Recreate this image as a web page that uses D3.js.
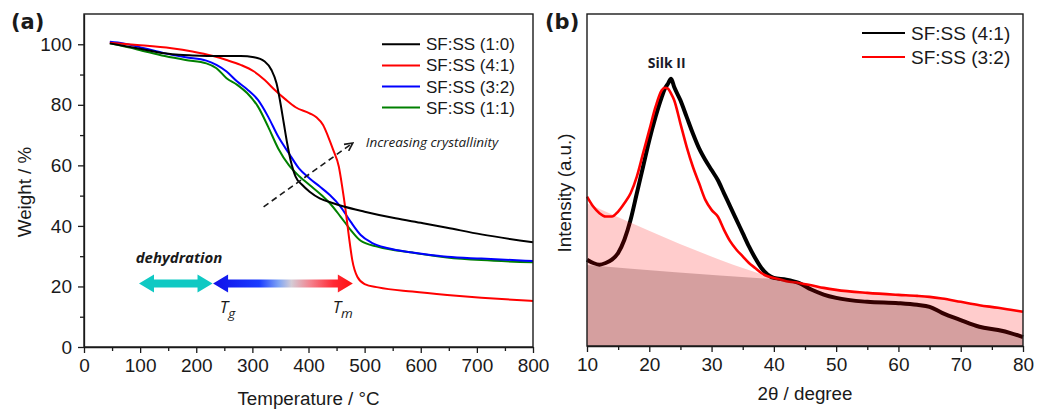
<!doctype html>
<html lang="en">
<head>
<meta charset="UTF-8">
<title>TGA and XRD of SF:SS films</title>
<script src="https://cdn.jsdelivr.net/npm/d3@7"></script>
<style>
  body { margin: 0; background: #fff; }
  svg { display: block; font-family: 'Liberation Sans', Arial, sans-serif; }
  .frame { fill: none; stroke: #1a1a1a; stroke-width: 1.4px; }
  .axis path, .axis line { stroke: #1a1a1a; stroke-width: 1.3px; }
  .axis text { fill: #1a1a1a; }
</style>
</head>
<body>
<div id="chart-area"></div>
<script>

// ---- panel (a): TGA, [temperature °C, weight %] ----
const tgaNames  = ['SF:SS (1:0)', 'SF:SS (4:1)', 'SF:SS (3:2)', 'SF:SS (1:1)'];
const tgaColors = ['#000000', '#ff0000', '#0000ff', '#008000'];

const tga10 = [[46,100.3],[95,98.7],[144,97],[169,96.5],[193,96.3],[242,96.1],[279,96.1],[303,95.7],
  [322,94.3],[334,91.5],[343,87.1],[349,81.6],[356,73.9],[362,67.3],[368,61.8],[377,56.3],[389,53.5],
  [402,51.3],[420,49.1],[444,47.5],[463,46.4],[500,44.7],[555,42.5],[604,40.9],[647,39.4],[708,37.2],[800,34.6]];
const tga41 = [[46,100.5],[95,99.8],[156,98.7],[193,97.6],[230,96.1],[254,94.8],[279,93.2],[303,91],
  [322,88.2],[340,84.9],[359,81.8],[377,79.2],[402,77.2],[414,75.9],[426,73.3],[435,69.5],[444,65.1],
  [454,59.6],[460,53],[466,45.3],[472,36.5],[478,28.7],[487,23.2],[500,20.8],[524,19.7],[585,18.3],
  [647,17.2],[708,16.3],[800,15.2]];
const tga32 = [[46,100.8],[70,100.3],[107,98.7],[144,97],[181,95.7],[218,94.6],[236,93.2],[254,91],
  [273,87.7],[291,85.1],[310,81.6],[328,76.1],[346,69.5],[365,64],[383,59],[402,55.7],[420,53],
  [438,50.2],[457,46.4],[475,41.4],[493,37],[512,34.5],[542,32.6],[585,31.2],[647,29.8],[708,29.2],[800,28.4]];
const tga11 = [[46,100.3],[95,98.3],[144,96.1],[181,94.8],[218,93.7],[236,92.1],[254,88.8],[273,86.6],
  [291,83.8],[310,79.4],[328,72.8],[346,65.6],[365,60.1],[383,56.5],[402,53.5],[426,49.7],[438,47.5],
  [457,43.1],[475,38.7],[493,35.1],[524,33.1],[585,31.2],[647,29.6],[708,28.7],[800,28]];
const tgaSeries = [tga10, tga41, tga32, tga11];

const tempTicks   = [0, 100, 200, 300, 400, 500, 600, 700, 800];
const weightTicks = [0, 20, 40, 60, 80, 100];

// ---- panel (b): XRD ----
const xrdNames  = ['SF:SS (4:1)', 'SF:SS (3:2)'];
const xrdColors = ['#000000', '#ff0000'];
const twoTheta = [10,11,12,13,14,15,16,17,18,19,20,21,22,22.5,23,23.5,24,25,26,27,28,29,30,31,32,33,34,35,
  36,37,38,39,40,42,44,46,48,50,55,60,63,65,67,70,73,76,78,80];
const xrd41 = [26,25,24.5,25,26,28,32,38,46,54,62,69,75,77.5,79,80.5,78,74,69,64,59.5,56,53,50,46,42,38,34,
  30,26.5,23.5,21.5,20.5,20,19,17,15.5,14.5,13.3,12.9,12.4,11.8,10,7.8,5.8,4.8,3.9,2.7];
const xrd32 = [45,42,40,39,39,40.5,43,46,51,58,65,72,77,77.8,77.5,76,74,67,60,54,49,44,41,39,35,31.5,29,27,
  25,23.5,22,21,20.5,19.5,19,18.3,17.5,16.9,16,15.4,15.1,14.8,14.3,13.3,12.3,11.5,10.9,10.3];
// straight background lines under each pattern, [2θ, intensity]
const base32 = [[10, 43], [38, 21.6]];
const base41 = [[10, 24.4], [40, 20.2]];
const thetaTicks = [10, 20, 30, 40, 50, 60, 70, 80];

const W = 1045, H = 412;
const svg = d3.select('#chart-area').append('svg')
    .attr('width', W)
    .attr('height', H);
svg.append('rect').attr('width', W).attr('height', H).attr('fill', '#fff');

const defs = svg.append('defs');

function drawAxes(g, x, y, box, xTicks, xMinor, yTicks, yMinor) {
    g.append('g').attr('class', 'axis')
        .attr('transform', `translate(0,${box.bottom})`)
        .call(d3.axisBottom(x).tickValues(xMinor).tickFormat('').tickSize(4).tickSizeOuter(0))
        .call(s => s.select('.domain').remove());
    g.append('g').attr('class', 'axis')
        .attr('transform', `translate(0,${box.bottom})`)
        .call(d3.axisBottom(x).tickValues(xTicks).tickSize(6).tickPadding(6).tickSizeOuter(0))
        .attr('font-family', null).attr('font-size', 19);
    if (yTicks) {
        g.append('g').attr('class', 'axis')
            .attr('transform', `translate(${box.left},0)`)
            .call(d3.axisLeft(y).tickValues(yMinor).tickFormat('').tickSize(4).tickSizeOuter(0))
            .call(s => s.select('.domain').remove());
        g.append('g').attr('class', 'axis')
            .attr('transform', `translate(${box.left},0)`)
            .call(d3.axisLeft(y).tickValues(yTicks).tickSize(6).tickPadding(6).tickSizeOuter(0))
            .attr('font-family', null).attr('font-size', 19);
    }
    g.append('rect').attr('class', 'frame')
        .attr('x', box.left).attr('y', box.top)
        .attr('width', box.right - box.left).attr('height', box.bottom - box.top);
}

// ===================== panel (a) =====================
const boxA = { left: 84, right: 533, top: 14, bottom: 347 };
const xA = d3.scaleLinear().domain([0, 800]).range([boxA.left, boxA.right]);
const yA = d3.scaleLinear().domain([0, 110]).range([boxA.bottom, boxA.top]);
const gA = svg.append('g');

const lineA = d3.line().x(d => xA(d[0])).y(d => yA(d[1])).curve(d3.curveMonotoneX);
// draw in reverse so black sits on top
[3, 2, 1, 0].forEach(i => {
    gA.append('path')
        .attr('d', lineA(tgaSeries[i]))
        .attr('fill', 'none')
        .attr('stroke', tgaColors[i])
        .attr('stroke-width', 2);
});

drawAxes(gA, xA, yA, boxA, tempTicks, d3.range(50, 800, 100), weightTicks, d3.range(10, 110, 20));

// legend (a)
tgaNames.forEach((name, i) => {
    const ly = 44.3 + i * 21.1;
    gA.append('line').attr('x1', 382).attr('x2', 420).attr('y1', ly).attr('y2', ly)
        .attr('stroke', tgaColors[i]).attr('stroke-width', 2);
    gA.append('text').attr('x', 426).attr('y', ly + 6)
        .attr('font-size', 17).attr('fill', '#1a1a1a').text(name);
});

// increasing crystallinity arrow
defs.append('marker')
    .attr('id', 'chev')
    .attr('viewBox', '0 0 10 10')
    .attr('refX', 9).attr('refY', 5)
    .attr('markerWidth', 10).attr('markerHeight', 10)
    .attr('markerUnits', 'userSpaceOnUse')
    .attr('orient', 'auto')
    .append('path')
    .attr('d', 'M1,1 L9,5 L1,9')
    .attr('fill', 'none').attr('stroke', '#1a1a1a').attr('stroke-width', 1.6);

gA.append('line')
    .attr('x1', xA(320)).attr('y1', yA(46.3))
    .attr('x2', xA(479)).attr('y2', yA(67.4))
    .attr('stroke', '#1a1a1a').attr('stroke-width', 1.6)
    .attr('stroke-dasharray', '6,4')
    .attr('marker-end', 'url(#chev)');

gA.append('text')
    .attr('x', xA(502)).attr('y', yA(66))
    .attr('font-family', 'Open Sans').attr('font-style', 'italic')
    .attr('font-size', 13.5).attr('fill', '#1a1a1a')
    .text('Increasing crystallinity');

// dehydration / Tg-Tm arrows
function doubleArrow(x1, x2, y) {
    const hl = 15, hh = 9, sh = 4;
    return `M${x1},${y} L${x1 + hl},${y - hh} L${x1 + hl},${y - sh} L${x2 - hl},${y - sh} ` +
        `L${x2 - hl},${y - hh} L${x2},${y} L${x2 - hl},${y + hh} L${x2 - hl},${y + sh} ` +
        `L${x1 + hl},${y + sh} L${x1 + hl},${y + hh} Z`;
}

const arrowY = yA(21);
gA.append('path')
    .attr('d', doubleArrow(xA(98), xA(229), arrowY))
    .attr('fill', '#0fc9c3');

const grad = defs.append('linearGradient')
    .attr('id', 'tgtm')
    .attr('gradientUnits', 'userSpaceOnUse')
    .attr('x1', xA(230)).attr('x2', xA(479)).attr('y1', 0).attr('y2', 0);
[[0, '#1010e8'], [0.33, '#1a3cff'], [0.47, '#7fa4f4'], [0.56, '#d4ccd6'], [0.7, '#f4808c'], [0.86, '#ff2a36'], [1, '#ff1010']]
    .forEach(s => grad.append('stop').attr('offset', s[0]).attr('stop-color', s[1]));

gA.append('path')
    .attr('d', doubleArrow(xA(230), xA(479), arrowY))
    .attr('fill', 'url(#tgtm)');

gA.append('text')
    .attr('x', xA(92)).attr('y', yA(27.7))
    .attr('font-family', 'Open Sans').attr('font-style', 'italic').attr('font-weight', 'bold')
    .attr('font-size', 15).attr('fill', '#1a1a1a')
    .text('dehydration');

[['g', 242], ['m', 443]].forEach(([sub, t]) => {
    const tx = gA.append('text')
        .attr('x', xA(t)).attr('y', yA(11.2))
        .attr('font-family', 'Open Sans').attr('font-style', 'italic')
        .attr('font-size', 17).attr('fill', '#1a1a1a');
    tx.append('tspan').text('T');
    tx.append('tspan').attr('dy', 5).attr('font-size', 13.5).text(sub);
});

gA.append('text')
    .attr('transform', `translate(31,192) rotate(-90)`)
    .attr('text-anchor', 'middle')
    .attr('font-size', 18.8).attr('fill', '#1a1a1a')
    .text('Weight / %');

gA.append('text')
    .attr('x', (boxA.left + boxA.right) / 2).attr('y', 405)
    .attr('text-anchor', 'middle')
    .attr('font-size', 18.8).attr('fill', '#1a1a1a')
    .text('Temperature / °C');

gA.append('text')
    .attr('x', 11).attr('y', 29)
    .attr('font-family', 'DejaVu Sans').attr('font-weight', 'bold')
    .attr('font-size', 21).attr('fill', '#1a1a1a')
    .text('(a)');

// ===================== panel (b) =====================
const boxB = { left: 587, right: 1023, top: 14, bottom: 346 };
const xB = d3.scaleLinear().domain([10, 80]).range([boxB.left, boxB.right]);
const yB = d3.scaleLinear().domain([0, 100]).range([boxB.bottom, boxB.top]);
const gB = svg.append('g');

const xrdSeries = [xrd41, xrd32].map(vals => twoTheta.map((t, i) => [t, vals[i]]));
const lineB = d3.line().x(d => xB(d[0])).y(d => yB(d[1])).curve(d3.curveMonotoneX);

gB.append('path').attr('d', lineB(xrdSeries[0]))
    .attr('fill', 'none').attr('stroke', xrdColors[0]).attr('stroke-width', 4)
    .attr('stroke-linejoin', 'round');
gB.append('path').attr('d', lineB(xrdSeries[1]))
    .attr('fill', 'none').attr('stroke', xrdColors[1]).attr('stroke-width', 2.6)
    .attr('stroke-linejoin', 'round');

// background areas: straight base line, then following the pattern
function baseArea(base, series) {
    const [p0, p1] = base;
    return [p0, p1].concat(series.filter(d => d[0] > p1[0]));
}
const areaB = d3.area().x(d => xB(d[0])).y0(yB(0)).y1(d => yB(d[1])).curve(d3.curveMonotoneX);

gB.append('path').attr('d', areaB(baseArea(base32, xrdSeries[1])))
    .attr('fill', 'rgba(255,0,0,0.2)');
gB.append('path').attr('d', areaB(baseArea(base41, xrdSeries[0])))
    .attr('fill', 'rgba(64,0,0,0.22)');

drawAxes(gB, xB, yB, boxB, thetaTicks, d3.range(15, 80, 10), null, null);

// legend (b)
xrdNames.forEach((name, i) => {
    const ly = 33 + i * 24;
    gB.append('line').attr('x1', 862).attr('x2', 905).attr('y1', ly).attr('y2', ly)
        .attr('stroke', xrdColors[i]).attr('stroke-width', 2.2);
    gB.append('text').attr('x', 911).attr('y', ly + 7)
        .attr('font-size', 19).attr('fill', '#1a1a1a').text(name);
});

gB.append('text')
    .attr('x', xB(22.8)).attr('y', 68)
    .attr('text-anchor', 'middle')
    .attr('font-family', 'Open Sans').attr('font-weight', 'bold')
    .attr('font-size', 14).attr('fill', '#1a1a2a')
    .text('Silk II');

gB.append('text')
    .attr('transform', `translate(571,193) rotate(-90)`)
    .attr('text-anchor', 'middle')
    .attr('font-size', 18.8).attr('fill', '#1a1a1a')
    .text('Intensity (a.u.)');

gB.append('text')
    .attr('x', (boxB.left + boxB.right) / 2).attr('y', 400)
    .attr('text-anchor', 'middle')
    .attr('font-size', 18.8).attr('fill', '#1a1a1a')
    .text('2θ / degree');

gB.append('text')
    .attr('x', 545).attr('y', 29)
    .attr('font-family', 'DejaVu Sans').attr('font-weight', 'bold')
    .attr('font-size', 21).attr('fill', '#1a1a1a')
    .text('(b)');

</script>
</body>
</html>
